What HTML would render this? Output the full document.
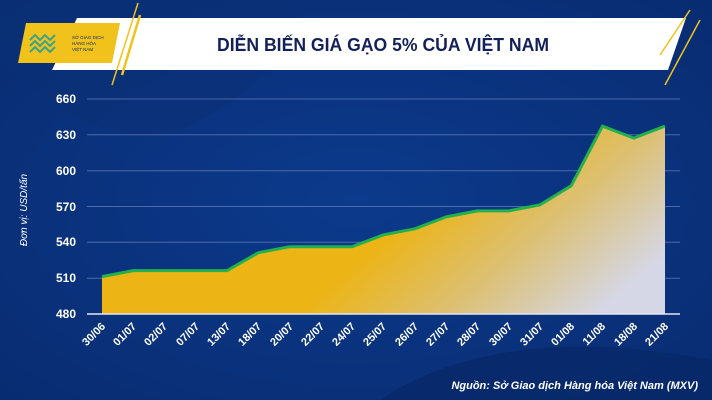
<!DOCTYPE html>
<html><head><meta charset="utf-8"><style>
html,body{margin:0;padding:0;width:712px;height:400px;overflow:hidden;background:#0b3482;font-family:"Liberation Sans",sans-serif}
</style></head><body>
<svg width="712" height="400" viewBox="0 0 712 400" xmlns="http://www.w3.org/2000/svg">
<defs>
<radialGradient id="bg" cx="0.5" cy="0.5" r="0.8"><stop offset="0" stop-color="#0c3a8c"/><stop offset="1" stop-color="#082a6e"/></radialGradient>
<linearGradient id="fill" gradientUnits="userSpaceOnUse" x1="450" y1="180" x2="580" y2="330"><stop offset="0" stop-color="#ecb414"/><stop offset="0.5" stop-color="#dcc074"/><stop offset="1" stop-color="#d5d7e6"/></linearGradient>
</defs>
<rect width="712" height="400" fill="url(#bg)"/>
<path d="M0 60 Q120 170 200 120 Q260 90 300 30 L300 0 L0 0Z" fill="#0a3076" opacity="0.6"/>
<path d="M380 400 Q500 320 712 360 L712 400Z" fill="#072867" opacity="0.7"/>
<!-- banner -->
<polygon points="77,18 686,18 668,70 52,70" fill="#ffffff"/>
<line x1="112" y1="85" x2="138" y2="3" stroke="#f1c21b" stroke-width="1.5"/>
<line x1="122" y1="75" x2="140" y2="15" stroke="#f1c21b" stroke-width="2.5"/>
<line x1="660" y1="55" x2="690" y2="10" stroke="#f1c21b" stroke-width="1.5"/>
<line x1="665" y1="85" x2="700" y2="20" stroke="#f1c21b" stroke-width="1.5"/>
<polygon points="26,23 120,23 112,63 18,63" fill="#f1c21b"/>
<g fill="none" stroke="#3aa38a" stroke-width="2"><path d="M30 40 l5 -5 5 5 5 -5 5 5 5 -5"/><path d="M30 46 l5 -5 5 5 5 -5 5 5 5 -5"/><path d="M30 52 l5 -5 5 5 5 -5 5 5 5 -5"/></g>
<text x="72" y="39" font-size="4.5" fill="#0b2a6e">SỞ GIAO DỊCH</text>
<text x="72" y="45" font-size="4.5" fill="#0b2a6e">HÀNG HÓA</text>
<text x="72" y="51" font-size="4.5" fill="#0b2a6e">VIỆT NAM</text>
<text x="383" y="51" font-size="18" font-weight="bold" fill="#14205a" text-anchor="middle" textLength="332" lengthAdjust="spacingAndGlyphs">DIỄN BIẾN GIÁ GẠO 5% CỦA VIỆT NAM</text>
<!-- grid -->
<g stroke="#5a78b8" stroke-width="1" opacity="0.8">
<line x1="87" y1="99" x2="680" y2="99"/><line x1="87" y1="134.8" x2="680" y2="134.8"/><line x1="87" y1="170.7" x2="680" y2="170.7"/><line x1="87" y1="206.5" x2="680" y2="206.5"/><line x1="87" y1="242.3" x2="680" y2="242.3"/><line x1="87" y1="278.2" x2="680" y2="278.2"/></g>
<g font-size="12" font-weight="bold" fill="#ffffff" text-anchor="end">
<text x="76" y="103">660</text><text x="76" y="139">630</text><text x="76" y="175">600</text><text x="76" y="211">570</text><text x="76" y="246">540</text><text x="76" y="282">510</text><text x="76" y="318">480</text></g>
<text transform="translate(27,210) rotate(-90)" font-size="10" font-style="italic" fill="#ffffff" text-anchor="middle">Đơn vị: USD/tấn</text>
<polygon fill="url(#fill)" points="102,314 102,276.6 133.3,270.6 164.6,270.6 195.8,270.6 227.1,270.6 258.4,252.7 289.7,246.7 321,246.7 352.2,246.7 383.5,234.8 414.8,228.8 446.1,216.9 477.4,210.9 508.7,210.9 539.9,204.9 571.2,185.8 602.5,126.1 633.8,138.1 665,126.1 665,314"/>
<polyline fill="none" stroke="#22b14c" stroke-width="3" stroke-linejoin="round" points="102,276.6 133.3,270.6 164.6,270.6 195.8,270.6 227.1,270.6 258.4,252.7 289.7,246.7 321,246.7 352.2,246.7 383.5,234.8 414.8,228.8 446.1,216.9 477.4,210.9 508.7,210.9 539.9,204.9 571.2,185.8 602.5,126.1 633.8,138.1 665,126.1"/>
<line x1="87" y1="314" x2="680" y2="314" stroke="#e6e8f0" stroke-width="1.5"/>
<g font-size="11" font-weight="bold" fill="#ffffff" text-anchor="end">
<text transform="translate(106,327) rotate(-45)">30/06</text>
<text transform="translate(137,327) rotate(-45)">01/07</text>
<text transform="translate(168,327) rotate(-45)">02/07</text>
<text transform="translate(200,327) rotate(-45)">07/07</text>
<text transform="translate(231,327) rotate(-45)">13/07</text>
<text transform="translate(262,327) rotate(-45)">18/07</text>
<text transform="translate(294,327) rotate(-45)">20/07</text>
<text transform="translate(325,327) rotate(-45)">22/07</text>
<text transform="translate(356,327) rotate(-45)">24/07</text>
<text transform="translate(387,327) rotate(-45)">25/07</text>
<text transform="translate(419,327) rotate(-45)">26/07</text>
<text transform="translate(450,327) rotate(-45)">27/07</text>
<text transform="translate(481,327) rotate(-45)">28/07</text>
<text transform="translate(513,327) rotate(-45)">30/07</text>
<text transform="translate(544,327) rotate(-45)">31/07</text>
<text transform="translate(575,327) rotate(-45)">01/08</text>
<text transform="translate(606,327) rotate(-45)">11/08</text>
<text transform="translate(638,327) rotate(-45)">18/08</text>
<text transform="translate(669,327) rotate(-45)">21/08</text>
</g>
<text x="698" y="389" font-size="11" font-weight="bold" font-style="italic" fill="#ffffff" text-anchor="end">Nguồn: Sở Giao dịch Hàng hóa Việt Nam (MXV)</text>
</svg>
</body></html>
